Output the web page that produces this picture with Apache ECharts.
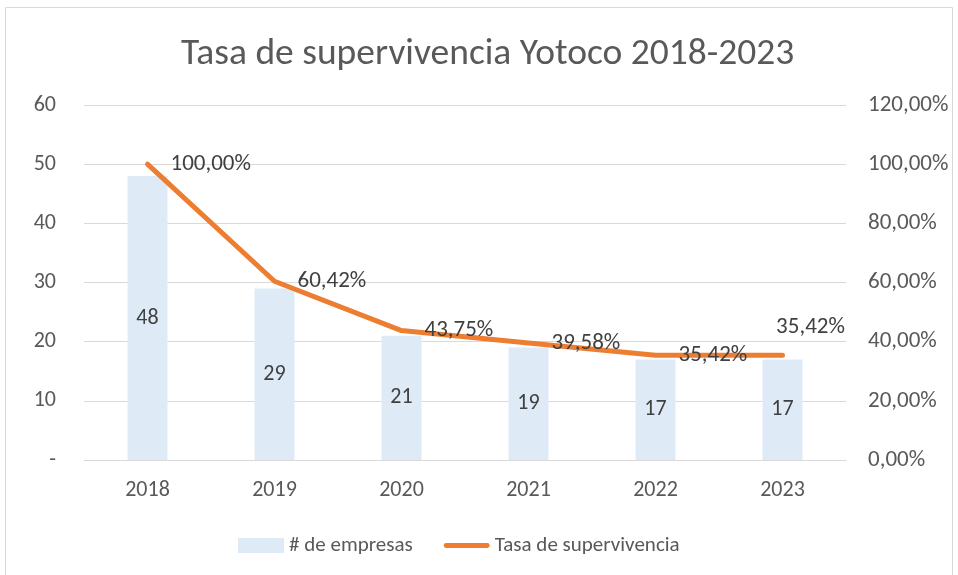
<!DOCTYPE html>
<html>
<head>
<meta charset="utf-8">
<script src="https://cdn.jsdelivr.net/npm/echarts@6.0.0/dist/echarts.min.js"></script>
<style>
  html, body { margin: 0; padding: 0; background: #fff; }
  #chart { width: 958px; height: 575px; }
</style>
</head>
<body>
<div id="chart"></div>
<script>
// datos
const years = ['2018', '2019', '2020', '2021', '2022', '2023'];
const empresas = [48, 29, 21, 19, 17, 17];
const tasa = [100.00, 60.42, 43.75, 39.58, 35.42, 35.42];

const FONT = 'Carlito, Calibri, Lato, sans-serif';
const fmtPct = v => v.toFixed(2).replace('.', ',') + '%';

const chart = echarts.init(document.getElementById('chart'));

// etiqueta del último punto va arriba, las demás a la derecha
const tasaData = tasa.map((v, i) => {
  if (i === tasa.length - 1) {
    return { value: v, label: { position: 'top', distance: 16, offset: [28, 0] } };
  }
  return v;
});

chart.setOption({
  backgroundColor: '#fff',
  animation: false,
  title: {
    text: 'Tasa de supervivencia Yotoco 2018-2023',
    left: 176,
    top: 31,
    textStyle: { fontFamily: FONT, fontWeight: 'normal', fontSize: 37.5, color: '#595959' }
  },
  graphic: [{
    type: 'rect',
    shape: { x: 5.5, y: 7.5, width: 947, height: 600 },
    style: { fill: 'none', stroke: '#D9D9D9', lineWidth: 1 },
    silent: true
  }],
  legend: {
    bottom: 14,
    left: 233,
    itemGap: 31,
    itemWidth: 46,
    itemHeight: 15,
    textStyle: { fontFamily: FONT, fontSize: 21, color: '#595959' },
    data: [
      { name: '# de empresas', icon: 'rect' },
      {
        name: 'Tasa de supervivencia',
        icon: 'path://M2.5,0 L45.5,0 A2.5,2.5 0 0 1 45.5,5 L2.5,5 A2.5,2.5 0 0 1 2.5,0 Z',
        itemStyle: { color: '#ED7D31' }
      }
    ]
  },
  grid: { left: 84, right: 112, top: 105, bottom: 115 },
  xAxis: {
    type: 'category',
    data: years,
    axisLine: { lineStyle: { color: '#D9D9D9', width: 1 } },
    axisTick: { show: false },
    axisLabel: { margin: 19, fontFamily: FONT, fontSize: 22, color: '#595959' }
  },
  yAxis: [{
    type: 'value',
    min: 0, max: 60, interval: 10,
    axisLine: { show: false },
    axisTick: { show: false },
    splitLine: { lineStyle: { color: '#D9D9D9', width: 1 } },
    axisLabel: {
      margin: 28, fontFamily: FONT, fontSize: 22, color: '#595959',
      formatter: v => v === 0 ? '-' : String(v)
    }
  }, {
    type: 'value',
    min: 0, max: 120, interval: 20,
    axisLine: { show: false },
    axisTick: { show: false },
    splitLine: { show: false },
    axisLabel: {
      margin: 22, fontFamily: FONT, fontSize: 23, color: '#595959',
      formatter: v => fmtPct(v)
    }
  }],
  series: [{
    name: '# de empresas',
    type: 'bar',
    data: empresas,
    barWidth: 40,
    itemStyle: { color: '#DEEBF7' },
    label: {
      show: true, position: 'inside',
      fontFamily: FONT, fontSize: 22, color: '#404040'
    },
    z: 2
  }, {
    name: 'Tasa de supervivencia',
    type: 'line',
    yAxisIndex: 1,
    data: tasaData,
    symbol: 'circle',
    symbolSize: 0,
    showSymbol: true,
    lineStyle: { color: '#ED7D31', width: 5, cap: 'round', join: 'round' },
    itemStyle: { color: '#ED7D31' },
    label: {
      show: true, position: 'right', distance: 23,
      fontFamily: FONT, fontSize: 23, color: '#404040',
      formatter: p => fmtPct(p.value)
    },
    z: 3
  }]
});
</script>
</body>
</html>
